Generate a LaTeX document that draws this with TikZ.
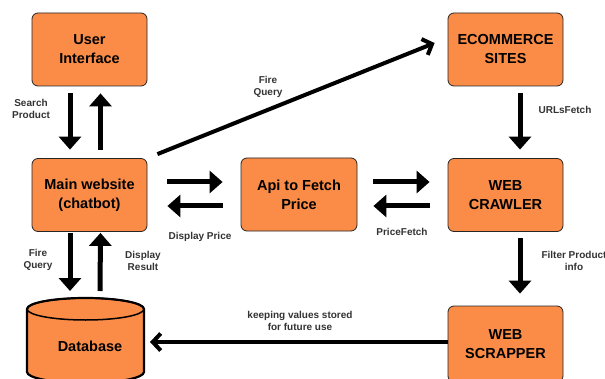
\documentclass[tikz,border=0pt]{standalone}
\usepackage{fontspec}
\setmainfont{Liberation Sans}
\usetikzlibrary{arrows.meta,calc}
\definecolor{boxor}{HTML}{FA8C48}
\definecolor{lbl}{HTML}{333333}
\tikzset{
 box/.style={draw=black!85, line width=0.8pt, fill=boxor, rounded corners=6pt, minimum width=115pt, minimum height=73pt, align=center, font=\fontsize{14.5}{19}\selectfont\bfseries, inner sep=0pt},
 fat/.style={line width=5pt, -{Triangle[length=13pt,width=22pt]}},
 barb/.style={line width=4pt, -{Straight Barb[length=8pt,width=17pt]}},
 lab/.style={text=lbl, font=\fontsize{10}{12.5}\selectfont\bfseries, align=center, inner sep=0pt},
}
\begin{document}
\begin{tikzpicture}[x=1pt,y=1pt]
\fill[white] (0,0) rectangle (605,378);
\useasboundingbox (0,0) rectangle (605,378);
% boxes
\node[box] (ui) at (89.5,328.5) {User\\Interface};
\node[box] (main) at (89.5,183) {Main website\\(chatbot)};
\node[box, minimum width=116pt] (api) at (299,183.5) {Api to Fetch\\Price};
\node[box] (ecom) at (505.5,328.5) {ECOMMERCE\\SITES};
\node[box] (crawl) at (505.5,183) {WEB\\CRAWLER};
\node[box, minimum height=76pt] (scrap) at (505.5,34) {WEB\\SCRAPPER};
% database cylinder
\path[fill=boxor, draw=black, line width=2.2pt] (27,69) -- (27,6) arc[start angle=180,end angle=360,x radius=58.5,y radius=11] -- (144,69) arc[start angle=0,end angle=180,x radius=58.5,y radius=11] -- cycle;
\draw[line width=1.5pt] (85.5,69) ellipse[x radius=58.5,y radius=11];
\node[font=\fontsize{14.5}{19}\selectfont\bfseries, inner sep=0pt] (db) at (90,32) {Database};
\coordinate (dbtop) at (85.5,80);
\coordinate (dbr) at (150,36);
% arrows
\draw[fat] ([xshift=-19.5pt,yshift=-7pt]ui.south) -- ([xshift=-19.5pt,yshift=8.5pt]main.north);
\draw[fat] ([xshift=11pt,yshift=8.5pt]main.north) -- ([xshift=11pt,yshift=-7pt]ui.south);
\draw[fat] ([xshift=20pt,yshift=13pt]main.east) -- ([xshift=-18pt,yshift=12.5pt]api.west);
\draw[fat] ([xshift=-18pt,yshift=-11.5pt]api.west) -- ([xshift=20pt,yshift=-11pt]main.east);
\draw[fat] ([xshift=16pt,yshift=12.5pt]api.east) -- ([xshift=-18pt,yshift=13pt]crawl.west);
\draw[fat] ([xshift=-18pt,yshift=-11pt]crawl.west) -- ([xshift=16pt,yshift=-11.5pt]api.east);
\draw[fat] ([xshift=-19.5pt,yshift=-1pt]main.south) -- ([xshift=-15.5pt,yshift=7pt]dbtop);
\draw[fat] ([xshift=14.5pt,yshift=7pt]dbtop) -- ([xshift=11pt,yshift=-1pt]main.south);
\draw[fat] ([xshift=14.5pt,yshift=-7pt]ecom.south) -- ([xshift=14.5pt,yshift=8.5pt]crawl.north);
\draw[fat] ([xshift=14.5pt,yshift=-6.5pt]crawl.south) -- ([xshift=14.5pt,yshift=12pt]scrap.north);
\draw[barb] ([xshift=10pt,yshift=4pt]main.north east) -- ([xshift=-13pt,yshift=6.5pt]ecom.west);
\draw[barb] ([yshift=2pt]scrap.west) -- (dbr);
% labels
\node[lab] (l1) at (31,269) {Search\\Product};
\node[lab] (l2) at (268,291) {Fire\\Query};
\node[lab] (l3) at (565,268) {URLsFetch};
\node[lab] (l4) at (200,141) {Display Price};
\node[lab] (l5) at (402,146) {PriceFetch};
\node[lab] (l6) at (38,118) {Fire\\Query};
\node[lab] (l7) at (143,117) {Display\\Result};
\node[lab] (l8) at (574,117) {Filter Product\\info};
\node[lab] (l9) at (300,57) {keeping values stored\\for future use};
\end{tikzpicture}
\end{document}
